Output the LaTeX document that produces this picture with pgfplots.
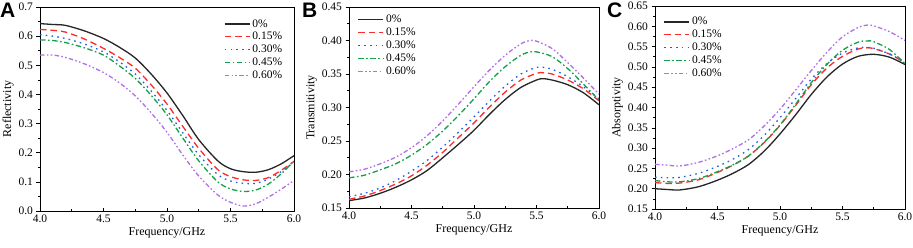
\documentclass[border=0pt]{standalone}
\usepackage{pgfplots}
\pgfplotsset{compat=1.18}
\usepackage{fontspec}
\setmainfont{Liberation Serif}
\newfontfamily\letterfont{Liberation Sans}
\definecolor{cR}{HTML}{FF2A2A}
\definecolor{cB}{HTML}{1F5FE8}
\definecolor{cG}{HTML}{14A04A}
\definecolor{cP}{HTML}{B070E8}
\pgfplotsset{
  panel/.style={
    scale only axis,
    anchor=south west,
    xmin=4, xmax=6,
    xtick={4,4.5,5,5.5,6},
    minor x tick num=1, minor y tick num=1,
    xtick pos=bottom, ytick pos=left,
    xtick align=inside, ytick align=outside,
    major tick length=3.5pt, minor tick length=2pt,
    every tick/.style={black, line width=0.6pt},
    axis line style={line width=0.8pt},
    /pgf/number format/assume math mode=true,
    /pgf/number format/fixed, /pgf/number format/fixed zerofill,
    xticklabel style={/pgf/number format/precision=1, font=\fontsize{11.5}{12}\selectfont},
    yticklabel style={font=\fontsize{11.5}{12}\selectfont},
    xlabel={Frequency/GHz},
    xlabel style={font=\fontsize{12}{13}\selectfont, yshift=2pt},
    ylabel style={font=\fontsize{12}{13}\selectfont, yshift=-2pt},
    legend style={draw=none, fill=none, font=\fontsize{11.5}{13}\selectfont,
      row sep=-0.3pt, inner sep=1pt, /tikz/every even column/.append style={column sep=1pt}},
    legend cell align=left,
    legend image code/.code={\draw[#1, line width=1.3pt] (0pt,0pt) -- (25pt,0pt);},
    every axis plot/.append style={line width=1.3pt, smooth, no marks},
  },
  s0/.style={black!85},
  s1/.style={cR, dash pattern=on 6.5pt off 4pt},
  s2/.style={cB, dash pattern=on 1.6pt off 4.2pt},
  s3/.style={cG, dash pattern=on 5.5pt off 2.5pt on 1.6pt off 2.5pt},
  s4/.style={cP, dash pattern=on 4.5pt off 2.3pt on 1.6pt off 2.3pt on 1.6pt off 2.3pt},
}
\begin{document}
\begin{tikzpicture}
\useasboundingbox (0pt,0pt) rectangle (913pt,247pt);
% ---------- A ----------
\begin{axis}[panel, at={(40pt,36pt)}, width=254pt, height=204pt,
  ymin=0, ymax=0.7, ytick={0,0.1,...,0.7},
  yticklabel style={/pgf/number format/precision=1},
  ylabel={Reflectivity},
  legend style={at={(0.72,0.955)}, anchor=north west}]
\addplot[s0] coordinates {(4.0,0.643)(4.1,0.640)(4.2,0.637)(4.35,0.618)(4.5,0.592)(4.625,0.562)(4.75,0.525)(4.875,0.470)(5.0,0.405)(5.125,0.327)(5.25,0.245)(5.4,0.172)(5.5,0.145)(5.6,0.135)(5.7,0.133)(5.8,0.142)(5.9,0.162)(6.0,0.190)};
\addplot[s1] coordinates {(4.0,0.623)(4.1,0.620)(4.2,0.614)(4.35,0.590)(4.5,0.558)(4.625,0.527)(4.75,0.490)(4.875,0.433)(5.0,0.367)(5.125,0.290)(5.25,0.215)(5.4,0.142)(5.5,0.118)(5.6,0.107)(5.7,0.105)(5.8,0.115)(5.9,0.140)(6.0,0.170)};
\addplot[s2] coordinates {(4.0,0.605)(4.1,0.600)(4.2,0.592)(4.35,0.573)(4.5,0.546)(4.625,0.512)(4.75,0.470)(4.875,0.412)(5.0,0.345)(5.125,0.268)(5.25,0.193)(5.4,0.125)(5.5,0.103)(5.6,0.095)(5.7,0.095)(5.8,0.110)(5.9,0.135)(6.0,0.168)};
\addplot[s3] coordinates {(4.0,0.587)(4.1,0.585)(4.2,0.578)(4.35,0.560)(4.5,0.535)(4.625,0.498)(4.75,0.455)(4.875,0.397)(5.0,0.330)(5.125,0.250)(5.25,0.172)(5.4,0.100)(5.5,0.076)(5.6,0.067)(5.7,0.072)(5.8,0.093)(5.9,0.128)(6.0,0.172)};
\addplot[s4] coordinates {(4.0,0.535)(4.1,0.535)(4.2,0.527)(4.35,0.505)(4.5,0.475)(4.625,0.440)(4.75,0.395)(4.875,0.337)(5.0,0.270)(5.125,0.192)(5.25,0.120)(5.4,0.055)(5.5,0.030)(5.6,0.017)(5.7,0.025)(5.8,0.048)(5.9,0.075)(6.0,0.105)};
\legend{0\%,0.15\%,0.30\%,0.45\%,0.60\%}
\end{axis}
% ---------- B ----------
\begin{axis}[panel, at={(349pt,39pt)}, width=250pt, height=201pt,
  ymin=0.15, ymax=0.45, ytick={0.15,0.20,...,0.45},
  yticklabel style={/pgf/number format/precision=2},
  ylabel={Transmitivity},
  legend style={at={(0.03,0.975)}, anchor=north west}]
\addplot[s0] coordinates {(4.0,0.161)(4.125,0.165)(4.25,0.172)(4.375,0.181)(4.5,0.192)(4.625,0.206)(4.75,0.225)(4.875,0.245)(5.0,0.266)(5.125,0.290)(5.25,0.312)(5.375,0.330)(5.5,0.341)(5.55,0.343)(5.625,0.341)(5.75,0.334)(5.875,0.322)(6.0,0.304)};
\addplot[s1] coordinates {(4.0,0.163)(4.125,0.168)(4.25,0.176)(4.375,0.186)(4.5,0.198)(4.625,0.214)(4.75,0.233)(4.875,0.255)(5.0,0.277)(5.125,0.301)(5.25,0.323)(5.375,0.341)(5.5,0.351)(5.55,0.352)(5.625,0.350)(5.75,0.341)(5.875,0.328)(6.0,0.310)};
\addplot[s2] coordinates {(4.0,0.167)(4.125,0.172)(4.25,0.180)(4.375,0.191)(4.5,0.205)(4.625,0.221)(4.75,0.241)(4.875,0.263)(5.0,0.286)(5.125,0.310)(5.25,0.332)(5.375,0.350)(5.5,0.360)(5.55,0.360)(5.625,0.357)(5.75,0.346)(5.875,0.331)(6.0,0.313)};
\addplot[s3] coordinates {(4.0,0.195)(4.125,0.199)(4.25,0.207)(4.375,0.216)(4.5,0.229)(4.625,0.245)(4.75,0.265)(4.875,0.288)(5.0,0.313)(5.125,0.339)(5.25,0.361)(5.375,0.378)(5.45,0.383)(5.5,0.383)(5.625,0.376)(5.75,0.358)(5.875,0.335)(6.0,0.311)};
\addplot[s4] coordinates {(4.0,0.204)(4.125,0.208)(4.25,0.216)(4.375,0.226)(4.5,0.240)(4.625,0.258)(4.75,0.280)(4.875,0.305)(5.0,0.331)(5.125,0.356)(5.25,0.378)(5.375,0.395)(5.45,0.400)(5.5,0.399)(5.625,0.388)(5.75,0.367)(5.875,0.344)(6.0,0.320)};
\legend{0\%,0.15\%,0.30\%,0.45\%,0.60\%}
\end{axis}
% ---------- C ----------
\begin{axis}[panel, at={(655pt,38pt)}, width=250pt, height=203pt,
  ymin=0.15, ymax=0.65, ytick={0.15,0.20,...,0.65},
  yticklabel style={/pgf/number format/precision=2},
  ylabel={Absorptivity},
  legend style={at={(0.03,0.96)}, anchor=north west}]
\addplot[s0] coordinates {(4.0,0.200)(4.1,0.198)(4.2,0.197)(4.35,0.205)(4.5,0.221)(4.625,0.238)(4.75,0.260)(4.875,0.293)(5.0,0.335)(5.125,0.382)(5.25,0.432)(5.375,0.475)(5.5,0.507)(5.625,0.526)(5.75,0.531)(5.875,0.524)(6.0,0.506)};
\addplot[s1] coordinates {(4.0,0.215)(4.1,0.213)(4.2,0.214)(4.35,0.222)(4.5,0.240)(4.625,0.258)(4.75,0.281)(4.875,0.314)(5.0,0.356)(5.125,0.405)(5.25,0.456)(5.375,0.497)(5.5,0.526)(5.625,0.544)(5.7,0.547)(5.75,0.545)(5.875,0.532)(6.0,0.510)};
\addplot[s2] coordinates {(4.0,0.228)(4.1,0.227)(4.2,0.228)(4.35,0.238)(4.5,0.255)(4.625,0.273)(4.75,0.297)(4.875,0.332)(5.0,0.375)(5.125,0.422)(5.25,0.470)(5.375,0.508)(5.5,0.534)(5.625,0.547)(5.7,0.548)(5.75,0.546)(5.875,0.532)(6.0,0.511)};
\addplot[s3] coordinates {(4.0,0.220)(4.1,0.217)(4.2,0.217)(4.35,0.225)(4.5,0.242)(4.625,0.259)(4.75,0.281)(4.875,0.315)(5.0,0.357)(5.125,0.408)(5.25,0.461)(5.375,0.506)(5.5,0.541)(5.625,0.561)(5.7,0.564)(5.75,0.562)(5.875,0.543)(6.0,0.508)};
\addplot[s4] coordinates {(4.0,0.260)(4.1,0.258)(4.2,0.256)(4.35,0.265)(4.5,0.281)(4.625,0.299)(4.75,0.321)(4.875,0.355)(5.0,0.396)(5.125,0.443)(5.25,0.491)(5.375,0.536)(5.5,0.574)(5.625,0.597)(5.7,0.603)(5.75,0.601)(5.875,0.587)(6.0,0.565)};
\legend{0\%,0.15\%,0.30\%,0.45\%,0.60\%}
\end{axis}
\node[anchor=north west, inner sep=0pt, font=\letterfont\bfseries\fontsize{21}{21}\selectfont] at (0pt,244pt) {A};
\node[anchor=north west, inner sep=0pt, font=\letterfont\bfseries\fontsize{21}{21}\selectfont] at (302pt,244pt) {B};
\node[anchor=north west, inner sep=0pt, font=\letterfont\bfseries\fontsize{21}{21}\selectfont] at (607pt,244pt) {C};
\end{tikzpicture}
\end{document}
